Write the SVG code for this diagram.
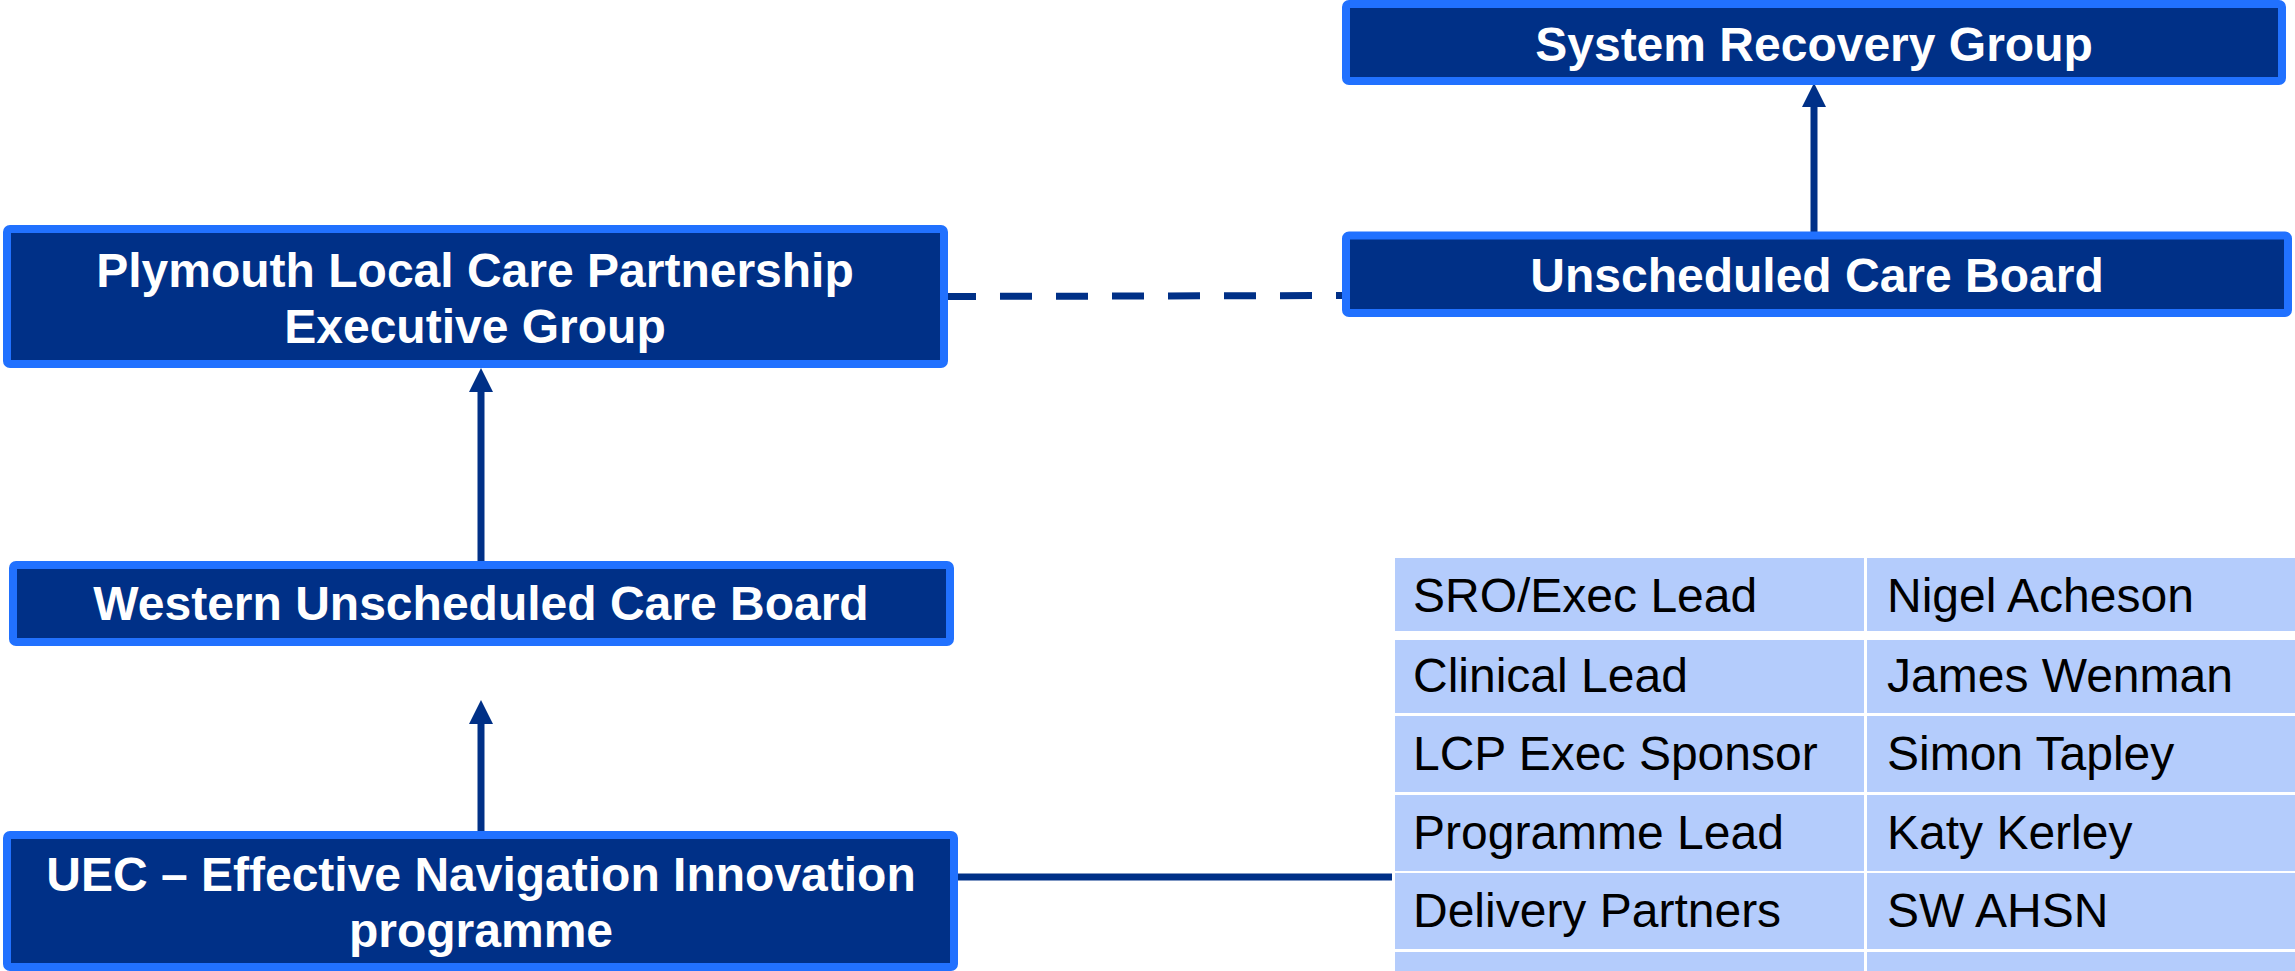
<svg xmlns="http://www.w3.org/2000/svg" width="2295" height="971" viewBox="0 0 2295 971">
  <style>
    .box { fill: #003087; stroke: #2171FF; stroke-width: 8; }
    .title { font-family: "Liberation Sans", Arial, sans-serif; font-weight: bold; font-size: 48px; fill: #FFFFFF; text-anchor: middle; }
    .cell { fill: #B4CCFC; }
    .ctext { font-family: "Liberation Sans", Arial, sans-serif; font-size: 48px; fill: #000000; }
    .conn { stroke: #003087; stroke-width: 7; fill: none; }
  </style>
  <defs>
    <marker id="arrow" viewBox="0 0 24 24" markerWidth="24" markerHeight="24" refX="0" refY="12" orient="auto" markerUnits="userSpaceOnUse">
      <path d="M0,0 L24,12 L0,24 z" fill="#003087"/>
    </marker>
  </defs>
  <rect width="2295" height="971" fill="#FFFFFF"/>

  <g id="connectors">
    <line class="conn" x1="1814" y1="233" x2="1814" y2="107" marker-end="url(#arrow)"/>
    <line class="conn" x1="481" y1="561" x2="481" y2="392" marker-end="url(#arrow)"/>
    <line class="conn" x1="481" y1="831" x2="481" y2="724" marker-end="url(#arrow)"/>
    <line class="conn" x1="944" y1="296.5" x2="1345" y2="295.5" stroke-dasharray="32 24"/>
    <line class="conn" x1="958" y1="877" x2="1392" y2="877"/>
  </g>

  <g id="system-recovery-group">
    <rect class="box" x="1346" y="4" width="936" height="77" rx="3"/>
    <text class="title" x="1814" y="61">System Recovery Group</text>
  </g>

  <g id="unscheduled-care-board">
    <rect class="box" x="1346" y="235.5" width="942" height="77.5" rx="3"/>
    <text class="title" x="1817" y="292">Unscheduled Care Board</text>
  </g>

  <g id="plymouth-lcp">
    <rect class="box" x="7" y="229" width="937" height="135" rx="3"/>
    <text class="title" x="475" y="287">Plymouth Local Care Partnership</text>
    <text class="title" x="475" y="343">Executive Group</text>
  </g>

  <g id="western-ucb">
    <rect class="box" x="13" y="565" width="937" height="77" rx="3"/>
    <text class="title" x="481" y="620">Western Unscheduled Care Board</text>
  </g>

  <g id="uec-programme">
    <rect class="box" x="7" y="835" width="947" height="132" rx="3"/>
    <text class="title" x="481" y="891">UEC – Effective Navigation Innovation</text>
    <text class="title" x="481" y="947">programme</text>
  </g>

  <g id="table">
    <rect class="cell" x="1395" y="558" width="469" height="73"/>
    <rect class="cell" x="1867" y="558" width="428" height="73"/>
    <rect class="cell" x="1395" y="640" width="469" height="73"/>
    <rect class="cell" x="1867" y="640" width="428" height="73"/>
    <rect class="cell" x="1395" y="716" width="469" height="76"/>
    <rect class="cell" x="1867" y="716" width="428" height="76"/>
    <rect class="cell" x="1395" y="795" width="469" height="76"/>
    <rect class="cell" x="1867" y="795" width="428" height="76"/>
    <rect class="cell" x="1395" y="873" width="469" height="76"/>
    <rect class="cell" x="1867" y="873" width="428" height="76"/>
    <rect class="cell" x="1395" y="952" width="469" height="19"/>
    <rect class="cell" x="1867" y="952" width="428" height="19"/>
    <text class="ctext" x="1413" y="612">SRO/Exec Lead</text>
    <text class="ctext" x="1887" y="612">Nigel Acheson</text>
    <text class="ctext" x="1413" y="692">Clinical Lead</text>
    <text class="ctext" x="1887" y="692">James Wenman</text>
    <text class="ctext" x="1413" y="770">LCP Exec Sponsor</text>
    <text class="ctext" x="1887" y="770">Simon Tapley</text>
    <text class="ctext" x="1413" y="849">Programme Lead</text>
    <text class="ctext" x="1887" y="849">Katy Kerley</text>
    <text class="ctext" x="1413" y="927">Delivery Partners</text>
    <text class="ctext" x="1887" y="927">SW AHSN</text>
  </g>
</svg>
